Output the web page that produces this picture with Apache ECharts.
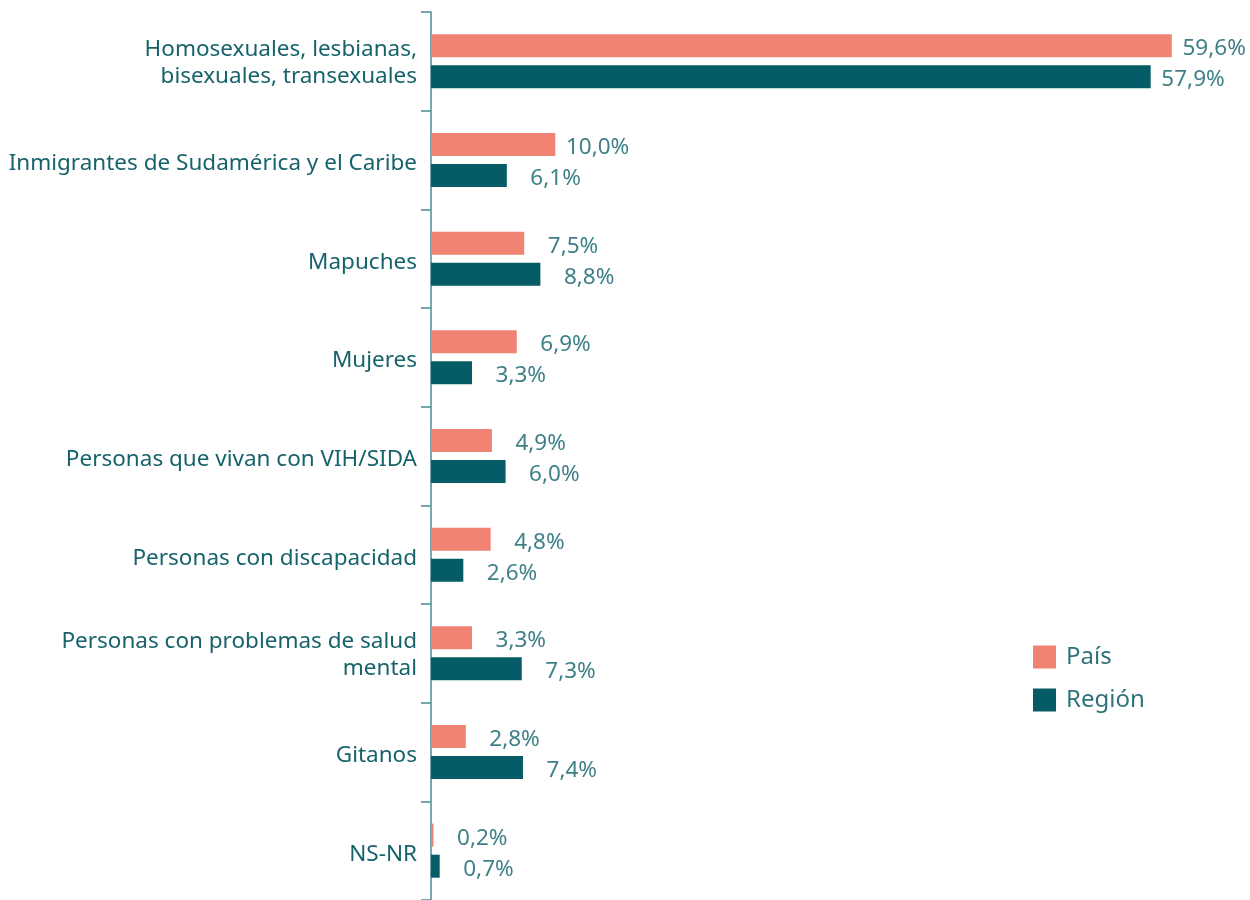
<!DOCTYPE html>
<html>
<head>
<meta charset="utf-8">
<script src="https://cdn.jsdelivr.net/npm/echarts@6/dist/echarts.min.js"></script>
<style>
  html, body { margin: 0; padding: 0; background: #ffffff; }
  #chart { width: 1250px; height: 900px; }
</style>
</head>
<body>
<div id="chart"></div>
<script>
// Groups mentioned as the target of discrimination, country vs region
const categories = [
  'Homosexuales, lesbianas,\nbisexuales, transexuales',
  'Inmigrantes de Sudamérica y el Caribe',
  'Mapuches',
  'Mujeres',
  'Personas que vivan con VIH/SIDA',
  'Personas con discapacidad',
  'Personas con problemas de salud\nmental',
  'Gitanos',
  'NS-NR'
];
const paisValues = [59.6, 10.0, 7.5, 6.9, 4.9, 4.8, 3.3, 2.8, 0.2];
const regionValues = [57.9, 6.1, 8.8, 3.3, 6.0, 2.6, 7.3, 7.4, 0.7];
const seriesNames = ['País', 'Región'];

const FONT = '"Noto Sans", sans-serif';
const fmt = p => p.value.toFixed(1).replace('.', ',') + '%';

const valueLabel = {
  show: true,
  position: 'right',
  distance: 74,
  align: 'right',
  formatter: fmt,
  color: '#3f8088',
  fontFamily: FONT,
  fontSize: 22.5,
  offset: [0, 3]
};

// Category label text style; the first line carries a small top pad so
// the block sits a little below the band centre.
const catText = { color: '#17636b', fontSize: 22.5, fontFamily: FONT, lineHeight: 30, align: 'right' };
const catFormatter = v => v.split('\n')
  .map((line, i) => (i === 0 ? '{f|' : '{n|') + line + '}')
  .join('\n');

const chart = echarts.init(document.getElementById('chart'));
chart.setOption({
  animation: false,
  textStyle: { fontFamily: FONT },
  grid: { left: 431, top: 12, width: 745.8, height: 888 },
  legend: {
    orient: 'vertical',
    left: 1033,
    top: 645,
    padding: 0,
    itemWidth: 23,
    itemHeight: 23,
    itemGap: 19,
    icon: 'rect',
    textStyle: { color: '#2f737b', fontSize: 24, fontFamily: FONT, padding: [0, 0, 0, 5] },
    data: seriesNames
  },
  xAxis: {
    type: 'value',
    min: 0,
    max: 60,
    show: false
  },
  yAxis: {
    type: 'category',
    data: categories,
    inverse: true,
    axisLine: { show: true, lineStyle: { color: '#4b8b93', width: 1.5 } },
    axisTick: { show: true, length: 10, lineStyle: { color: '#4b8b93', width: 1.5 } },
    axisLabel: {
      color: '#17636b',
      fontSize: 22.5,
      fontFamily: FONT,
      margin: 14,
      lineHeight: 30,
      align: 'right',
      formatter: catFormatter,
      rich: {
        f: Object.assign({ padding: [7, 0, 0, 0] }, catText),
        n: Object.assign({}, catText)
      }
    }
  },
  series: [
    {
      name: seriesNames[0],
      type: 'bar',
      data: paisValues,
      barWidth: 23,
      barGap: '35%',
      itemStyle: { color: '#f08374' },
      label: valueLabel
    },
    {
      name: seriesNames[1],
      type: 'bar',
      data: regionValues,
      barWidth: 23,
      itemStyle: { color: '#065c66' },
      label: valueLabel
    }
  ]
});
</script>
</body>
</html>
